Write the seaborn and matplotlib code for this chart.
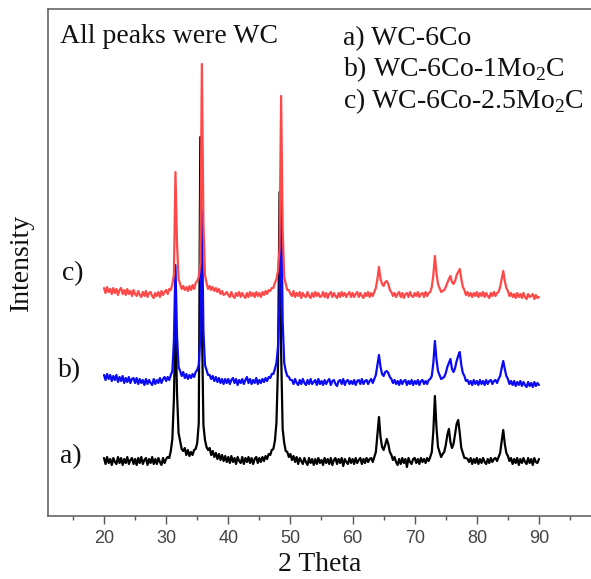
import matplotlib
matplotlib.use("Agg")
import matplotlib.pyplot as plt
import numpy as np
import pandas as pd
import seaborn as sns

# XRD scan grid (deg 2-theta), 0.25 deg step
TWO_THETA = np.arange(20.0, 90.0 + 0.125, 0.25)

# intensities (arb. units, baseline ~0), rows = 5 deg blocks
INT_A = [
    3, -3, 4, -2, 2, -4, 3, -1, -3, 4, -2, 3, -4, 2, -2, 4, -3, 1, 3, -3,         # 20
    2, -4, 3, -2, 4, -3, 1, 3, -4, 2, -2, 4, -3, 2, -3, 3, -1, -4, 3, -2,         # 25
    2, 4, 3, 10, 22, 62, 142, 68, 28, 20, 12, 10, 13, 6, 11, 5, 9, 6, 11, 12,     # 30
    18, 38, 324, 140, 36, 21, 14, 11, 13, 6, 10, 4, 8, 2, 7, 1, 6, 0, 5, -1,      # 35
    4, -2, 5, -1, 3, -3, 4, 0, -2, 4, -3, 3, -1, 4, -2, 3, -3, 2, 4, -2,          # 40
    3, -1, 4, 0, 5, 2, 7, 6, 11, 12, 20, 38, 95, 269, 110, 32, 18, 10, 9, 4,      # 45
    7, 1, 5, -1, 4, -3, 3, 0, -3, 3, -1, -4, 3, -2, 2, -4, 2, -3, 3, -2,          # 50
    1, -4, 3, -2, 2, -3, 3, -4, 1, 3, -3, 2, -2, 3, -5, 2, -1, -3, 3, -2,         # 55
    2, -3, 3, -2, 1, 3, -3, 2, -2, 3, -1, 2, 3, -1, 4, 9, 26, 44, 24, 14,         # 60
    11, 16, 22, 17, 9, 6, 1, 4, -1, -4, 2, -3, 3, -2, 2, -6, 3, -1, -3, 2,        # 65
    3, -2, 2, -3, 3, -1, 2, -2, 3, 0, 4, 9, 30, 65, 34, 14, 9, 4, 7, 9,           # 70
    16, 26, 32, 19, 13, 17, 27, 37, 41, 28, 13, 8, 3, 3, 2, -1, 3, -3, 2, -2,     # 75
    3, -3, 2, -2, 3, -1, -3, 2, -2, 3, -1, 2, 3, 0, 4, 8, 20, 31, 17, 8,          # 80
    5, 0, 3, -3, 2, -2, 3, -4, 2, -2, 3, -1, -3, 3, -2, 2, -4, 3, -1, -2,         # 85
    2,
]
INT_B = [
    6, 1, 7, 2, 6, 0, 5, 1, 6, -1, 4, 0, 5, -2, 3, -1, 4, -2, 2, 3,
    -2, 3, -3, 2, -2, 1, -4, 2, -3, 1, -2, -4, 2, -3, 1, -2, 3, -2, 2, 4,
    0, 4, 1, 6, 10, 40, 116, 45, 14, 10, 5, 9, 3, 7, 2, 6, 3, 7, 4, 9,
    11, 16, 45, 171, 50, 16, 11, 6, 6, 2, 5, 0, 4, -1, 3, -2, 2, -3, 2, -2,
    2, -3, 1, 3, -2, 2, -4, 1, -2, 2, -3, 1, 4, -2, 2, -3, 1, -2, 3, -3,
    1, -2, 2, -1, 3, 0, 4, 3, 7, 7, 12, 18, 34, 80, 198, 60, 18, 10, 5, 4,
    1, 1, -3, 2, -2, -4, 1, -3, 2, -2, -4, 1, -3, 2, -3, -1, 1, -4, 2, -3,
    0, -4, 1, -3, 0, 2, -4, 0, 1, -3, -5, 0, 1, -3, 2, -4, 0, 1, -3, 0,
    -3, 1, -4, 0, 1, -3, 2, -3, 0, 1, -3, 0, 2, -2, 2, 6, 16, 26, 14, 7,
    5, 9, 10, 8, 4, 2, -2, 1, -3, 0, -4, 1, -3, 0, 1, -4, 0, -3, 1, -4,
    0, -3, 1, -4, 0, 1, -3, 0, -3, 1, 2, 5, 18, 40, 22, 10, 6, 2, 3, 4,
    8, 14, 18, 22, 12, 9, 13, 20, 25, 29, 16, 8, 5, 0, 1, -3, 0, -4, 1, -3,
    0, -4, 1, -3, 0, -4, 1, -3, 0, 1, -3, 0, 1, -2, 2, 5, 13, 20, 12, 5,
    2, -3, 0, -4, 0, -5, -1, -4, 0, -5, -1, -4, -6, -1, -5, -2, -6, -1, -5, -2,
    -4,
]
INT_C = [
    5, 0, 6, 1, 4, -1, 5, 0, 4, -2, 3, 5, -1, 3, -2, 4, -1, 2, -3, 3,
    -1, -3, 2, -2, -4, 1, -3, 2, -4, 0, 1, -3, -5, 0, -3, 1, -4, 2, -2, 1,
    3, -1, 4, 3, 9, 18, 121, 50, 14, 9, 4, 7, 3, 6, 2, 7, 3, 8, 4, 10,
    12, 16, 30, 229, 70, 18, 10, 4, 7, 3, 6, 2, 5, 1, 4, -1, 2, -2, -1, 1,
    -2, -4, 1, -3, -5, 0, -3, 1, -4, 0, -3, -5, 0, -4, 1, -3, 0, -4, 1, -3,
    0, -4, 1, -2, 2, -1, 3, 2, 5, 5, 10, 14, 22, 45, 197, 65, 16, 9, 3, 3,
    -1, -3, 2, -4, 0, -3, 1, -5, 0, -3, -4, 1, -3, -5, 0, -4, 1, -3, 0, -4,
    -3, 1, -4, 0, -5, -1, 1, -4, 0, -3, -5, 0, -4, 1, -3, 0, -4, -1, 1, -4,
    0, -4, -1, 1, -4, 0, -3, -5, 0, -3, 1, -4, 0, -3, 1, 5, 14, 26, 14, 9,
    7, 11, 12, 9, 3, 1, -3, 0, -4, -1, 1, -4, 0, -5, -1, 0, -4, 1, -3, -4,
    0, -3, 1, -4, -1, 0, -4, 1, -3, 0, 1, 6, 18, 37, 20, 9, 5, 1, 2, 3,
    6, 10, 14, 17, 11, 9, 12, 18, 21, 24, 14, 6, 3, -2, 1, -3, 0, -4, 0, -3,
    1, -4, 0, -3, 1, -4, 0, -3, -5, 0, -3, 1, -3, 0, 1, 6, 14, 22, 12, 5,
    2, -3, 0, -4, -1, -5, 0, -4, -1, -5, 0, -4, -6, -1, -4, -3, -1, -6, -2, -5,
    -4,
]

SAMPLES = ["a", "b", "c"]
OFFSETS = {"a": 55, "b": 135, "c": 223}
COLORS = {"a": "#000000", "b": "#0a0af5", "c": "#ff4848"}
LEGEND_LINES = [
    "a) WC-6Co",
    r"b) WC-6Co-1Mo$_\mathrm{2}$C",
    r"c) WC-6Co-2.5Mo$_\mathrm{2}$C",
]

frames = []
for s, vals in zip(SAMPLES, [INT_A, INT_B, INT_C]):
    frames.append(pd.DataFrame({
        "two_theta": TWO_THETA,
        "intensity": np.asarray(vals, dtype=float) + OFFSETS[s],
        "sample": s,
    }))
df = pd.concat(frames, ignore_index=True)

sns.set_theme(style="white")
plt.rcParams["font.family"] = ["Liberation Serif", "DejaVu Serif"]
plt.rcParams["mathtext.fontset"] = "custom"
plt.rcParams["mathtext.rm"] = "Liberation Serif"

W, H = 591, 579
fig = plt.figure(figsize=(W / 100, H / 100), dpi=100)
ax = fig.add_axes([48 / W, 63 / H, 543 / W, 507 / H])

sns.lineplot(
    data=df, x="two_theta", y="intensity", hue="sample", hue_order=SAMPLES,
    palette=COLORS, estimator=None, sort=False, lw=1.6, legend=False, ax=ax,
)

ax.set_xlim(20 - 56 / 6.214, 20 + 487 / 6.214)
ax.set_ylim(0, 507)
ax.set_xticks(range(20, 100, 10))
ax.set_xticks(range(15, 100, 10), minor=True)
ax.set_yticks([])
ax.tick_params(axis="x", which="major", direction="out", length=6, width=1,
               color="#555555", labelcolor="#444444", labelsize=13, pad=4, bottom=True)
ax.tick_params(axis="x", which="minor", direction="out", length=3, width=1,
               color="#555555", bottom=True)
for lab in ax.get_xticklabels():
    lab.set_fontfamily("Liberation Sans")
for side in ["left", "bottom", "top"]:
    ax.spines[side].set_color("#666666")
    ax.spines[side].set_linewidth(1.2)
ax.spines["right"].set_visible(False)

ax.set_xlabel("2 Theta", fontsize=20, labelpad=4, color="#111111")
ax.set_ylabel("Intensity", fontsize=20, labelpad=10, color="#111111")

ax.text(0.022, 0.932, "All peaks were WC", transform=ax.transAxes, fontsize=20,
        va="baseline", ha="left", color="#111111")
for i, line in enumerate(LEGEND_LINES):
    ax.text(0.543, 0.929 - i * 0.062, line, transform=ax.transAxes, fontsize=20,
            va="baseline", ha="left", color="#111111")
for lab, (x, y) in zip(["c)", "b)", "a)"], [(0.026, 0.4655), (0.018, 0.274), (0.022, 0.1045)]):
    ax.text(x, y, lab, transform=ax.transAxes, fontsize=20, va="baseline",
            ha="left", color="#111111")

fig.savefig("out.png", dpi=100)
